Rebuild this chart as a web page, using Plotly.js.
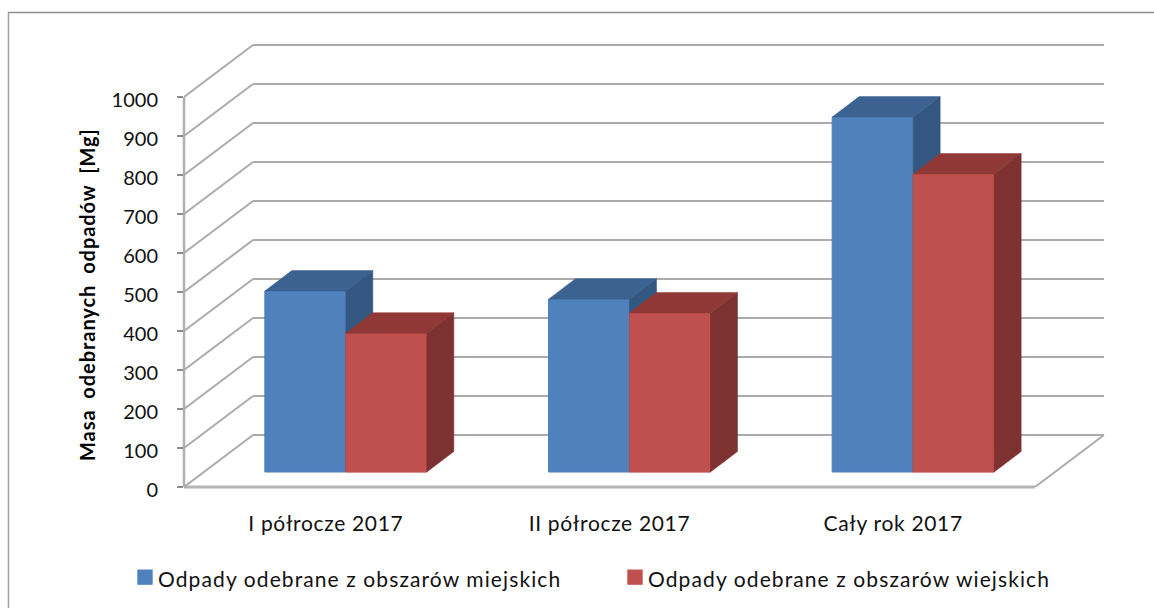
<!DOCTYPE html>
<html>
<head>
<meta charset="utf-8">
<script src="https://cdn.plot.ly/plotly-3.0.1.min.js"></script>
<style>
html,body{margin:0;padding:0;background:#fff;overflow:hidden}
#frame{width:1154px;height:608px;overflow:hidden}
.legendtext{letter-spacing:1.1px}
.xtick text{letter-spacing:.67px}
.annotation-text{letter-spacing:.95px;word-spacing:5px}
.legendpoints{transform:translate(3.4px,-2px) scale(1.18)}
</style>
</head>
<body>
<div id="frame"><div id="chart"></div></div>
<script>
const categories = ['I półrocze 2017', 'II półrocze 2017', 'Cały rok 2017'];
const miejskie = [464, 443, 910];
const wiejskie = [356, 408, 764];
const seriesNames = ['Odpady odebrane z obszarów miejskich', 'Odpady odebrane z obszarów wiejskich'];
const yTicks = [0, 100, 200, 300, 400, 500, 600, 700, 800, 900, 1000];
const yTitle = 'Masa odebranych odpadów [Mg]';

const W = 1154, H = 608, layoutH = 632;
const L = 184, R = 1106, T = 40, B = 487;
const catPx = 851 / 3, valPx = 0.39;
const xMin = -0.5, xMax = xMin + (R - L) / catPx, yMax = (B - T) / valPx;
const wallDx = 69 / catPx, wallDy = 52 / valPx;
const barW = 81 / catPx, barShift = 20 / catPx, barBase = 15 / valPx;
const depthDx = 27 / catPx, depthDy = 20.5 / valPx;
const fontName = 'Lato, "Open Sans", sans-serif';
const gridCol = '#ababab';
const colors = {
  blue: {front: '#4f81bd', top: '#3c6291', side: '#335780'},
  red: {front: '#c0504d', top: '#8f3835', side: '#7d3130'}
};

const px = v => (v - L) / (R - L);
const py = v => (B - v) / (B - T);

function line(x0, y0, x1, y1, col, w) {
  return {type: 'line', layer: 'below', xref: 'x', yref: 'y', x0, y0, x1, y1, line: {color: col, width: w}};
}
const shapes = [];
yTicks.forEach(v => {
  shapes.push(line(xMin + wallDx, v + wallDy, xMin + 3 + wallDx, v + wallDy, gridCol, 2));
  shapes.push(line(xMin, v, xMin + wallDx, v + wallDy, gridCol, 2));
});
shapes.push(line(xMin + 3, 0, xMin + 3 + wallDx, wallDy, gridCol, 2));
shapes.push({type: 'line', layer: 'below', xref: 'paper', yref: 'y', x0: 0, x1: 0, y0: 0, y1: 1000, line: {color: '#b0b0b0', width: 2.5}});
shapes.push({type: 'line', layer: 'below', xref: 'x', yref: 'paper', x0: xMin, x1: xMin + 3, y0: 0, y1: 0, line: {color: '#b4b4b4', width: 3}});
shapes.push({type: 'line', layer: 'below', xref: 'paper', yref: 'paper',
  x0: px(8), x1: px(W), y0: py(12.5), y1: py(12.5), line: {color: '#8e8e8e', width: 1.5}});
shapes.push({type: 'line', layer: 'below', xref: 'paper', yref: 'paper',
  x0: px(8.5), x1: px(8.5), y0: py(12), y1: py(H), line: {color: '#a0a0a0', width: 1.5}});

function poly(xs, ys, col) {
  return {type: 'scatter', mode: 'lines', x: xs.concat(xs[0]), y: ys.concat(ys[0]), fill: 'toself',
    fillcolor: col, line: {color: col, width: 0.5}, showlegend: false, hoverinfo: 'skip'};
}
const blueX = categories.map((c, i) => i + barShift - barW / 2);
const redX = categories.map((c, i) => i + barShift + barW / 2);

const traces = [
  {type: 'bar', name: seriesNames[0], x: blueX, y: miejskie, base: barBase, width: barW,
   marker: {color: colors.blue.front, line: {color: colors.blue.front, width: 1}}},
  {type: 'bar', name: seriesNames[1], x: redX, y: wiejskie, base: barBase, width: barW,
   marker: {color: colors.red.front, line: {color: colors.red.front, width: 1}}}
];
categories.forEach((c, i) => {
  const bx = blueX[i], rx = redX[i], h = barW / 2;
  const bt = barBase + miejskie[i], rt = barBase + wiejskie[i];
  traces.push(poly([bx - h, bx + h, bx + h + depthDx, bx - h + depthDx], [bt, bt, bt + depthDy, bt + depthDy], colors.blue.top));
  traces.push(poly([bx + h, bx + h + depthDx, bx + h + depthDx, bx + h], [barBase, barBase + depthDy, bt + depthDy, bt], colors.blue.side));
  traces.push(poly([rx - h, rx + h, rx + h, rx - h], [barBase, barBase, rt, rt], colors.red.front));
  traces.push(poly([rx - h, rx + h, rx + h + depthDx, rx - h + depthDx], [rt, rt, rt + depthDy, rt + depthDy], colors.red.top));
  traces.push(poly([rx + h, rx + h + depthDx, rx + h + depthDx, rx + h], [barBase, barBase + depthDy, rt + depthDy, rt], colors.red.side));
});

const layout = {
  width: W, height: layoutH, paper_bgcolor: '#fff', plot_bgcolor: 'rgba(0,0,0,0)',
  margin: {l: L, r: W - R, t: T, b: layoutH - B, pad: 0},
  barmode: 'overlay', bargap: 0,
  font: {family: fontName, size: 20, color: '#111'},
  xaxis: {range: [xMin, xMax], tickmode: 'array', tickvals: [0, 1, 2], ticktext: categories,
    showgrid: false, zeroline: false, showline: false, ticks: 'outside', ticklen: 18, tickcolor: 'rgba(0,0,0,0)',
    tickfont: {family: fontName, size: 21, color: '#111'}},
  yaxis: {range: [0, yMax], tickmode: 'array', tickvals: yTicks, ticktext: yTicks.map(String),
    showgrid: false, zeroline: false, showline: false, ticks: 'outside', ticklen: 6, tickwidth: 1.5, tickcolor: '#8c8c8c',
    ticklabelstandoff: 15, ticklabelshift: 3,
    tickfont: {family: fontName, size: 20, color: '#111'}},
  annotations: [{text: '<b>' + yTitle + '</b>', textangle: -90, showarrow: false,
    xref: 'paper', yref: 'paper', x: px(87), y: py(295), xanchor: 'center', yanchor: 'middle',
    font: {family: fontName, size: 20, color: '#000'}}],
  showlegend: true,
  legend: {orientation: 'h', x: px(118), y: py(600), xanchor: 'left', yanchor: 'bottom',
    traceorder: 'normal', entrywidth: 445, entrywidthmode: 'pixels', itemclick: false, itemdoubleclick: false,
    font: {family: fontName, size: 21, color: '#111'}, bgcolor: 'rgba(0,0,0,0)'},
  shapes
};
Plotly.newPlot('chart', traces, layout, {displayModeBar: false, staticPlot: true});
</script>
</body>
</html>
